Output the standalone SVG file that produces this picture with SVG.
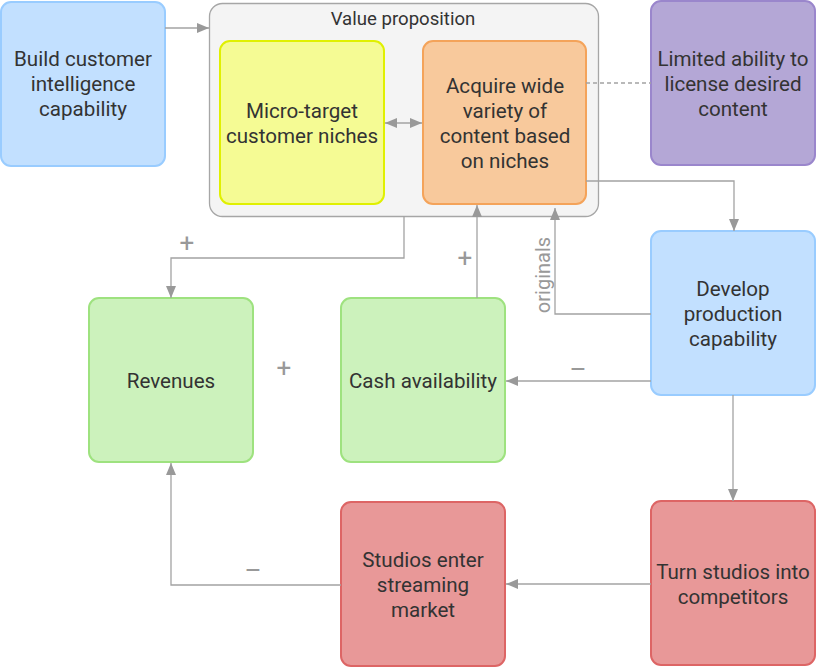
<svg xmlns="http://www.w3.org/2000/svg" width="829" height="668" viewBox="0 0 829 668">
<defs>
<marker id="ah" viewBox="0 0 12 10" refX="12" refY="5" markerWidth="12" markerHeight="10" markerUnits="userSpaceOnUse" orient="auto-start-reverse">
<path d="M0,0 L12,5 L0,10 Z" fill="#999999"/>
</marker>
<style>
.n{stroke-width:2}
.t{font-family:Roboto,"Liberation Sans",sans-serif;font-size:20.6px;fill:#333333;text-anchor:middle}
.c{fill:none;stroke:#a3a3a3;stroke-width:1.3}
.l{font-family:Roboto,"Liberation Sans",sans-serif;font-size:26px;fill:#999999;text-anchor:middle}
.blue{fill:#c2e0ff;stroke:#99ccff}
.green{fill:#ccf2bc;stroke:#9ee27f}
.red{fill:#e89898;stroke:#dd6565}
</style>
</defs>
<rect width="829" height="668" fill="#ffffff"/>

<g id="value-proposition">
<rect x="209.5" y="3.5" width="389" height="213" rx="13" fill="#f4f4f4" stroke="#a6a6a6" stroke-width="1.3"/>
<text x="403" y="25" class="t" style="font-size:18.6px">Value proposition</text>
</g>

<g id="build-customer-intelligence">
<rect class="n blue" x="1" y="2" width="164" height="164" rx="10"/>
<text class="t" x="83" y="66">Build customer</text>
<text class="t" x="83" y="91">intelligence</text>
<text class="t" x="83" y="116">capability</text>
</g>

<g id="micro-target">
<rect class="n" x="220" y="41" width="164" height="163" rx="10" fill="#f5fb94" stroke="#e0f000"/>
<text class="t" x="302" y="118">Micro-target</text>
<text class="t" x="302" y="143">customer niches</text>
</g>

<g id="acquire-content">
<rect class="n" x="423" y="41" width="163" height="163" rx="10" fill="#f8c99c" stroke="#f4a35a"/>
<text class="t" x="505" y="93">Acquire wide</text>
<text class="t" x="505" y="118">variety of</text>
<text class="t" x="505" y="143">content based</text>
<text class="t" x="505" y="168">on niches</text>
</g>

<g id="limited-ability">
<rect class="n" x="651" y="1" width="164" height="164" rx="10" fill="#b4a7d6" stroke="#9a86cc"/>
<text class="t" x="733" y="66">Limited ability to</text>
<text class="t" x="733" y="91">license desired</text>
<text class="t" x="733" y="116">content</text>
</g>

<g id="develop-production">
<rect class="n blue" x="651" y="231" width="164" height="164" rx="10"/>
<text class="t" x="733" y="296">Develop</text>
<text class="t" x="733" y="321">production</text>
<text class="t" x="733" y="346">capability</text>
</g>

<g id="revenues">
<rect class="n green" x="89" y="298" width="164" height="164" rx="10"/>
<text class="t" x="171" y="388">Revenues</text>
</g>

<g id="cash-availability">
<rect class="n green" x="341" y="298" width="164" height="164" rx="10"/>
<text class="t" x="423" y="388">Cash availability</text>
</g>

<g id="studios-enter">
<rect class="n red" x="341" y="502" width="164" height="164" rx="10"/>
<text class="t" x="423" y="567">Studios enter</text>
<text class="t" x="423" y="592">streaming</text>
<text class="t" x="423" y="617">market</text>
</g>

<g id="turn-studios">
<rect class="n red" x="651" y="501" width="164" height="164" rx="10"/>
<text class="t" x="733" y="579">Turn studios into</text>
<text class="t" x="733" y="604">competitors</text>
</g>

<g id="connectors">
<path class="c" d="M165,28 H209" marker-end="url(#ah)"/>
<path class="c" d="M385,123 H422" marker-start="url(#ah)" marker-end="url(#ah)"/>
<path class="c" d="M586,83 H651" stroke-dasharray="4,3"/>
<path class="c" d="M586,181 H734 V231" marker-end="url(#ah)"/>
<path class="c" d="M404,216 V258 H171 V298" marker-end="url(#ah)"/>
<path class="c" d="M477,298 V205" marker-end="url(#ah)"/>
<path class="c" d="M651,314 H555 V208" marker-end="url(#ah)"/>
<path class="c" d="M651,381 H506" marker-end="url(#ah)"/>
<path class="c" d="M733,395 V501" marker-end="url(#ah)"/>
<path class="c" d="M651,584 H506" marker-end="url(#ah)"/>
<path class="c" d="M341,585 H171 V463" marker-end="url(#ah)"/>
<text class="l" x="187" y="252">+</text>
<text class="l" x="465" y="267">+</text>
<text class="l" x="284" y="377">+</text>
<text class="l" x="578" y="378">–</text>
<text class="l" x="253" y="579">–</text>
<text x="550" y="275" transform="rotate(-90 550 275)" style="font-family:Roboto,'Liberation Sans',sans-serif;font-size:20px;fill:#999999;text-anchor:middle">originals</text>
</g>
</svg>
